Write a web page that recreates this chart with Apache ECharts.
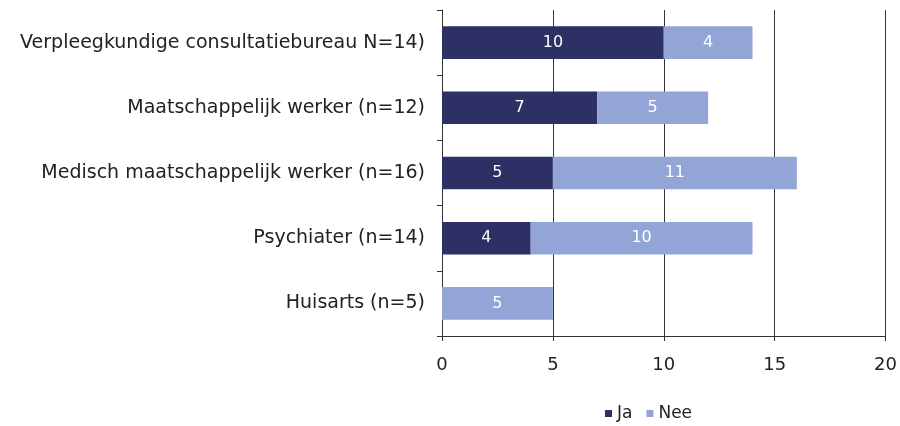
<!DOCTYPE html>
<html>
<head>
<meta charset="utf-8">
<script src="https://cdn.jsdelivr.net/npm/echarts@6/dist/echarts.min.js"></script>
<style>html,body{margin:0;padding:0;background:#fff}#c{width:900px;height:426px}</style>
</head>
<body>
<div id="c"></div>
<script>
const categories = [
  "Verpleegkundige consultatiebureau N=14)",
  "Maatschappelijk werker (n=12)",
  "Medisch maatschappelijk werker (n=16)",
  "Psychiater (n=14)",
  "Huisarts (n=5)"
];
const jaValues = [10, 7, 5, 4, 0];
const neeValues = [4, 5, 11, 10, 5];
const xTicks = [0, 5, 10, 15, 20];

const chart = echarts.init(document.getElementById('c'));
const font = '"DejaVu Sans", Verdana, sans-serif';
chart.setOption({
  animation: false,
  textStyle: { fontFamily: font },
  grid: { left: 442, right: 14, top: 10, bottom: 90 },
  legend: {
    top: 400,
    left: 600,
    itemWidth: 7, itemHeight: 7, itemGap: 14,
    icon: 'rect',
    textStyle: { fontSize: 17, color: '#222', fontFamily: font },
    data: ['Ja', 'Nee']
  },
  xAxis: {
    type: 'value',
    min: xTicks[0], max: xTicks[xTicks.length - 1], interval: 5,
    axisLine: { show: true, lineStyle: { color: '#333', width: 1 } },
    axisTick: { show: true, length: 5, lineStyle: { color: '#333' } },
    axisLabel: { fontSize: 18, color: '#222', margin: 20, fontFamily: font },
    splitLine: { show: true, lineStyle: { color: '#333', width: 1 } }
  },
  yAxis: {
    type: 'category',
    inverse: true,
    data: categories,
    axisLine: { show: true, lineStyle: { color: '#333', width: 1 } },
    axisTick: { show: true, length: 5, lineStyle: { color: '#333' } },
    axisLabel: { fontSize: 19, color: '#222', margin: 17, fontFamily: font }
  },
  series: [
    {
      name: 'Ja', type: 'bar', stack: 't', barWidth: '50%',
      data: jaValues,
      itemStyle: { color: '#2c3064' },
      label: { show: true, position: 'inside', color: '#fff', fontSize: 16, fontFamily: font,
        formatter: p => p.value > 0 ? p.value : '' }
    },
    {
      name: 'Nee', type: 'bar', stack: 't', barWidth: '50%',
      data: neeValues,
      itemStyle: { color: '#93a5d6' },
      label: { show: true, position: 'inside', color: '#fff', fontSize: 16, fontFamily: font,
        formatter: p => p.value > 0 ? p.value : '' }
    }
  ]
});
</script>
</body>
</html>
